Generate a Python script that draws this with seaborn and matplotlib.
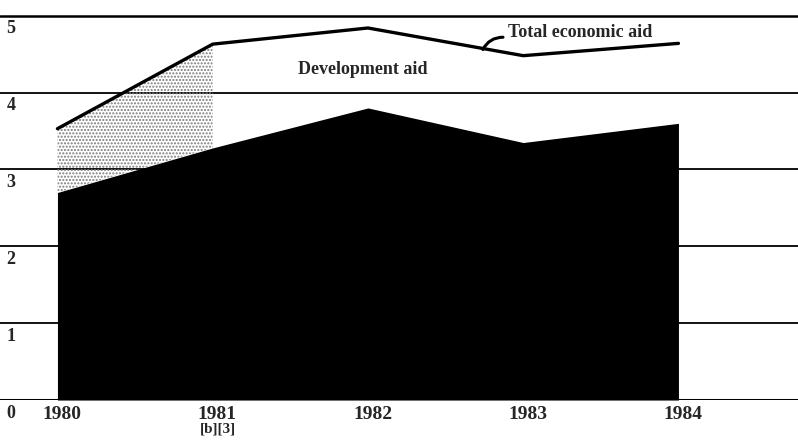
import numpy as np
import pandas as pd
import matplotlib.pyplot as plt
import seaborn as sns

# Valores (miles de millones)
years = [1980, 1981, 1982, 1983, 1984]
total_aid = [3.53, 4.63, 4.84, 4.48, 4.64]
development_aid = [2.7, 3.28, 3.8, 3.35, 3.6]
y_ticks = [0, 1, 2, 3, 4, 5]

df = pd.DataFrame({'year': years, 'total': total_aid, 'development': development_aid})

sns.set_style('white')
plt.rcParams['font.family'] = ['Liberation Serif', 'DejaVu Serif']

fig = plt.figure(figsize=(7.98, 4.45), dpi=100)
ax = fig.add_axes([0.0, 0.101, 1.0, 0.881])

# Lineas horizontales
for t in y_ticks[1:]:
    ax.axhline(t, color='black', lw=1.3 if t < 5 else 1.8, zorder=1)
ax.axhline(0, color='black', lw=2.2, zorder=4)

# Zona punteada entre ayuda total y ayuda al desarrollo
x = np.array(years, dtype=float)
ax.fill_between(x, df['development'], df['total'], where=x <= 1981,
                facecolor='none', edgecolor='#7a7a7a', hatch='.....', lw=0, zorder=2)

# Area negra: ayuda al desarrollo
ax.fill_between(df['year'], 0, df['development'], color='black', lw=0, zorder=3)

# Linea: ayuda economica total
sns.lineplot(data=df, x='year', y='total', color='black', lw=2.4, ax=ax, zorder=5)

ax.set_xlim(1979.63, 1984.77)
ax.set_ylim(0, 5.1)
ax.set_xticks([])
ax.set_yticks([])
ax.set_xlabel('')
ax.set_ylabel('')
for s in ax.spines.values():
    s.set_visible(False)

# Etiquetas del eje y dentro del grafico
trans = ax.get_yaxis_transform()
for t in y_ticks:
    if t == 0:
        continue
    ax.text(0.008, t - 0.06, str(t), transform=trans, ha='left', va='top',
            fontsize=13, fontweight='bold')
ax.text(0.008, -0.07, '0', transform=trans, ha='left', va='top',
        fontsize=13, fontweight='bold', clip_on=False)

# Etiquetas de los anos
for yr in years:
    ax.text(yr + 0.03, -0.08, str(yr), ha='center', va='top', fontsize=14,
            fontweight='bold', clip_on=False)

ax.text(1981.55, 4.3, 'Development aid', ha='left', va='center', fontsize=13,
        fontweight='bold', zorder=6)
ax.text(1982.9, 4.78, 'Total economic aid', ha='left', va='center', fontsize=13,
        fontweight='bold', zorder=6)
ax.annotate('', xy=(1982.74, 4.56), xytext=(1982.87, 4.72),
            arrowprops=dict(arrowstyle='-', color='black', lw=2.2,
                            connectionstyle='arc3,rad=0.3',
                            shrinkA=0, shrinkB=0))

fig.text(0.273, 0.035, '[b][3]', ha='center', va='center', fontsize=11, fontweight='bold')

fig.savefig('out.png', dpi=100)
